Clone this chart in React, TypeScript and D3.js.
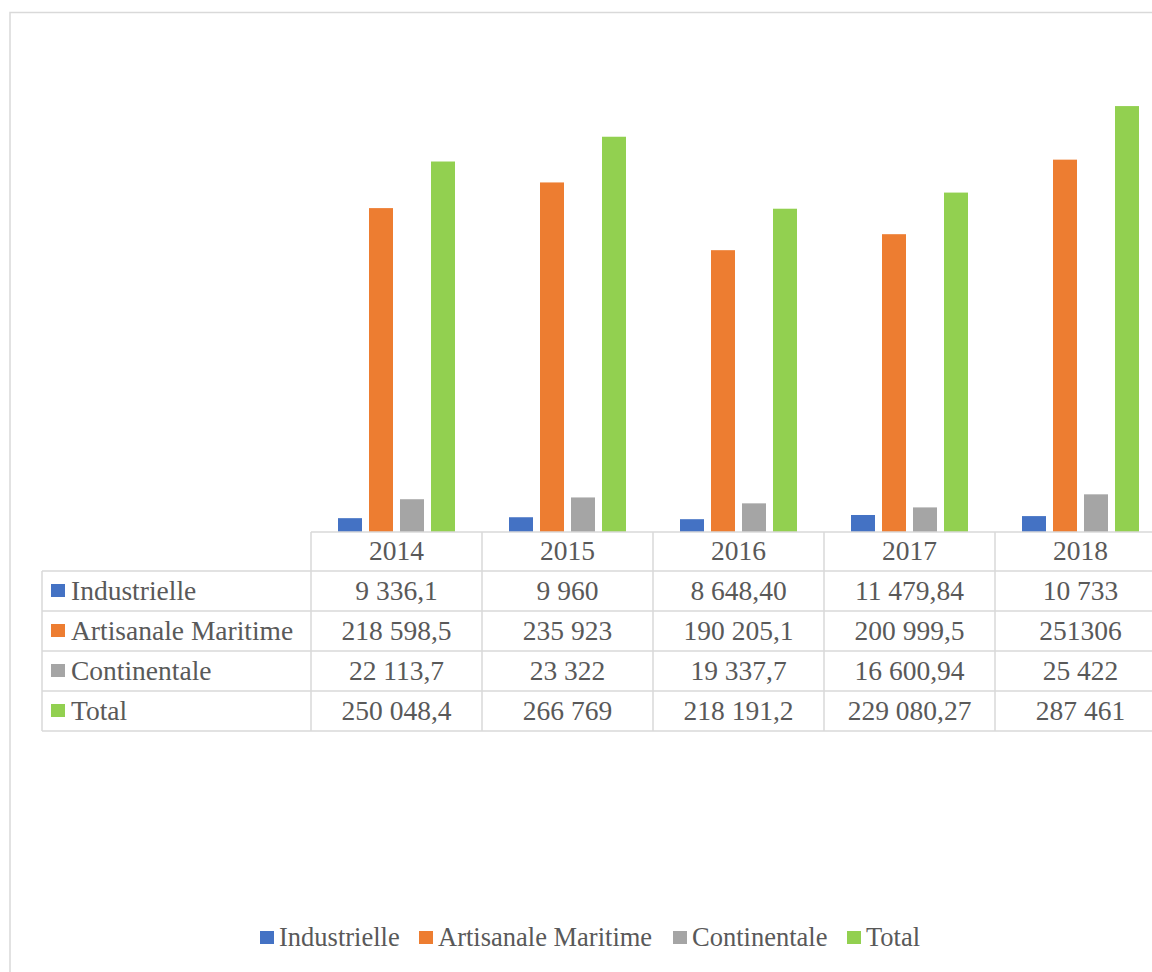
import React from "react";
import * as d3 from "d3";

// Production by fishing type, 2014–2018 (values as published in the table)
const years = ["2014", "2015", "2016", "2017", "2018"];
const seriesNames = ["Industrielle", "Artisanale Maritime", "Continentale", "Total"];
const industrielle = ["9 336,1", "9 960", "8 648,40", "11 479,84", "10 733"];
const artisanaleMaritime = ["218 598,5", "235 923", "190 205,1", "200 999,5", "251306"];
const continentale = ["22 113,7", "23 322", "19 337,7", "16 600,94", "25 422"];
const total = ["250 048,4", "266 769", "218 191,2", "229 080,27", "287 461"];
const colors = ["#4472C4", "#ED7D31", "#A5A5A5", "#92D050"];

const rows = [industrielle, artisanaleMaritime, continentale, total];
const toNumber = (s: string) => parseFloat(s.replace(/\s/g, "").replace(",", "."));

const W = 1152;
const H = 972;
const FONT = '"Liberation Serif", "Times New Roman", serif';
const TEXT = "#595959";
const GRID = "#D9D9D9";
const tableText = { fontFamily: FONT, fontSize: "27.5px", fill: TEXT } as React.CSSProperties;
const legendText = { fontFamily: FONT, fontSize: "26.5px", fill: TEXT } as React.CSSProperties;

export default function App() {
  const plotLeft = 311;
  const colW = 171;
  const baseline = 532;
  const rowH = 40;
  const tableLeft = 42;
  const headerH = 39;

  const x0 = d3
    .scaleBand<string>()
    .domain(years)
    .range([plotLeft, plotLeft + colW * years.length])
    .paddingInner(0)
    .paddingOuter(0);
  const x1 = d3
    .scaleBand<string>()
    .domain(seriesNames)
    .range([0, x0.bandwidth()])
    .paddingInner(7 / 31)
    .paddingOuter(27 / 31);
  const y = d3.scaleLinear().domain([0, 300000]).range([baseline, 87.5]);

  const tableRight = plotLeft + colW * years.length;
  const rowTops = seriesNames.map((_, i) => baseline + headerH + i * rowH);
  const tableBottom = baseline + headerH + seriesNames.length * rowH;

  // legend layout at bottom
  const legendItems = [
    { x: 260, name: seriesNames[0] },
    { x: 419, name: seriesNames[1] },
    { x: 673, name: seriesNames[2] },
    { x: 847, name: seriesNames[3] },
  ];

  return (
    <div style={{ position: "absolute", left: 0, top: 0 }}>
      <svg width={W} height={H} style={{ display: "block", background: "#fff" }}>
        <rect x={10} y={12.5} width={W + 20} height={H + 20} fill="#fff" stroke={GRID} strokeWidth={1.5} />

        {/* bars */}
        {years.map((yr, j) => (
          <g key={yr} transform={`translate(${x0(yr)},0)`}>
            {rows.map((r, i) => {
              const v = toNumber(r[j]);
              return (
                <rect
                  key={i}
                  x={x1(seriesNames[i])}
                  y={y(v)}
                  width={x1.bandwidth()}
                  height={baseline - y(v)}
                  fill={colors[i]}
                />
              );
            })}
          </g>
        ))}

        {/* data table */}
        <g stroke={GRID} strokeWidth={1.5} fill="none">
          <line x1={plotLeft} x2={tableRight} y1={baseline} y2={baseline} />
          {rowTops.map((t, i) => (
            <line key={i} x1={tableLeft} x2={tableRight} y1={t} y2={t} />
          ))}
          <line x1={tableLeft} x2={tableRight} y1={tableBottom} y2={tableBottom} />
          <line x1={tableLeft} x2={tableLeft} y1={rowTops[0]} y2={tableBottom} />
          {years.map((yr) => (
            <line key={yr} x1={x0(yr)} x2={x0(yr)} y1={baseline} y2={tableBottom} />
          ))}
          <line x1={tableRight} x2={tableRight} y1={baseline} y2={tableBottom} />
        </g>

        <g>
          {years.map((yr) => (
            <text
              key={yr}
              style={tableText}
              x={(x0(yr) as number) + colW / 2}
              y={baseline + 28}
              textAnchor="middle"
            >
              {yr}
            </text>
          ))}
          {seriesNames.map((name, i) => (
            <g key={name}>
              <rect x={51} y={rowTops[i] + 13} width={14} height={13} fill={colors[i]} />
              <text style={tableText} x={71} y={rowTops[i] + 29}>
                {name}
              </text>
              {rows[i].map((s, j) => (
                <text
                  key={j}
                  style={tableText}
                  x={(x0(years[j]) as number) + colW / 2}
                  y={rowTops[i] + 29}
                  textAnchor="middle"
                >
                  {s}
                </text>
              ))}
            </g>
          ))}
        </g>

        {/* legend */}
        <g>
          {legendItems.map((it, i) => (
            <g key={it.name}>
              <rect x={it.x} y={931} width={14} height={13} fill={colors[i]} />
              <text style={legendText} x={it.x + 19} y={946}>
                {it.name}
              </text>
            </g>
          ))}
        </g>
      </svg>
    </div>
  );
}
